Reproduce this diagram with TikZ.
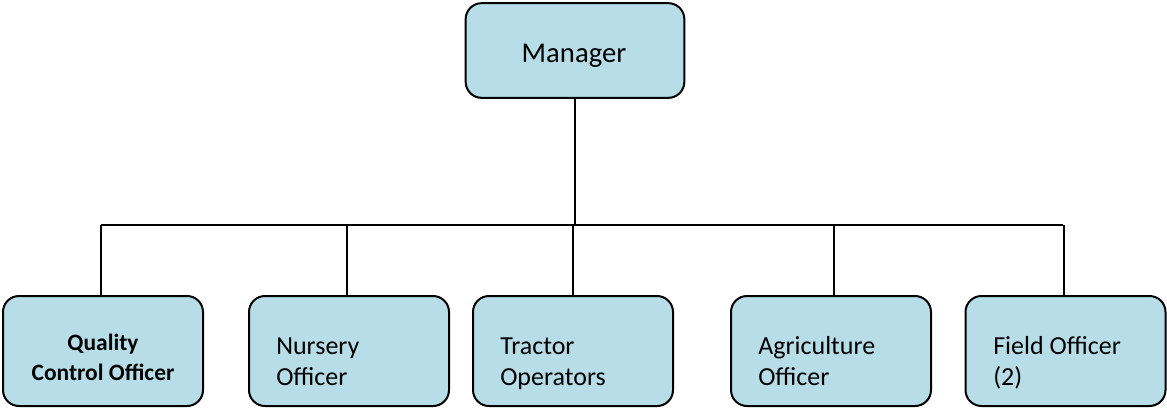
\documentclass[tikz,border=0pt]{standalone}
\usepackage{fontspec}
\setmainfont{Carlito}
\definecolor{boxblue}{HTML}{B7DEE8}
\begin{document}
\begin{tikzpicture}[x=0.75pt,y=-0.75pt,
  box/.style={draw=black, line width=1.5pt, fill=boxblue, rounded corners=12pt,
              inner sep=0pt, minimum width=150pt, minimum height=82.5pt},
  link/.style={line width=1.4pt},
  lbl/.style={anchor=base west, inner sep=0pt, font=\fontsize{19.5}{23}\selectfont},
  bold/.style={anchor=base, inner sep=0pt, font=\fontsize{17.6}{21}\selectfont\bfseries}
]
\useasboundingbox (0,0) rectangle (1167,408);

% top box
\node[box, minimum width=164pt, minimum height=71pt] (mgr) at (575,50.5) {};
\node[anchor=base, inner sep=0pt, font=\fontsize{21.5}{25}\selectfont] (tmgr) at (574,62) {Manager};

% bottom row
\node[box] (qc)  at (103,351) {};
\node[box] (nur) at (349,351) {};
\node[box] (tra) at (573,351) {};
\node[box] (agr) at (831,351) {};
\node[box] (fld) at (1065.5,351) {};

% labels
\node[bold] (tqc1) at (103,350) {Quality};
\node[bold] (tqc2) at (103,380) {Control Officer};
\node[lbl] (tnur1) at (276,354) {Nursery};
\node[lbl] (tnur2) at (276,385) {Officer};
\node[lbl] (ttra1) at (500,354) {Tractor};
\node[lbl] (ttra2) at (500,385) {Operators};
\node[lbl] (tagr1) at (758,354) {Agriculture};
\node[lbl] (tagr2) at (758,385) {Officer};
\node[lbl] (tfld1) at (993,354) {Field Officer};
\node[lbl] (tfld2) at (993,385) {(2)};

% connectors
\coordinate (busL) at (101,225);
\coordinate (busR) at (1063,225);
\draw[link] (busL) -- (busR);
\draw[link] (mgr.south) -- (mgr.south |- busL);
\draw[link] ([xshift=-1.5pt]qc.north) -- ([xshift=-1.5pt]qc.north |- busL);
\draw[link] ([xshift=-1.5pt]nur.north) -- ([xshift=-1.5pt]nur.north |- busL);
\draw[link] (tra.north) -- (tra.north |- busL);
\draw[link] ([xshift=2pt]agr.north) -- ([xshift=2pt]agr.north |- busL);
\draw[link] ([xshift=-1pt]fld.north) -- ([xshift=-1pt]fld.north |- busL);
\end{tikzpicture}
\end{document}
